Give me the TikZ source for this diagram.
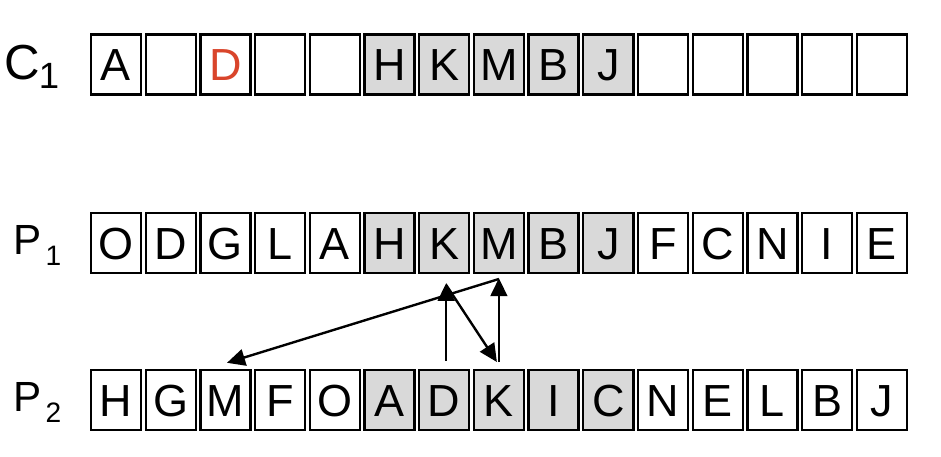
\documentclass[tikz,border=0pt]{standalone}
\usepackage{fontspec}
\setmainfont{Liberation Sans}
\usetikzlibrary{arrows.meta}

\definecolor{cellgray}{RGB}{217,217,217}
\definecolor{mapred}{RGB}{217,69,43}

\tikzset{
    cell/.style={draw=black, line width=1.7pt, minimum width=1.25cm, minimum height=1.5cm,
        inner sep=0pt, text height=23pt, text depth=0pt, font={\fontsize{32}{32}\selectfont}},
    maparrow/.style={line width=1.7pt, -{Triangle[length=0.45cm, width=0.42cm]}}
}

\begin{document}
\begin{tikzpicture}
        \useasboundingbox (0, 0) rectangle (23.525, 11.4);

        % row labels
        \node[anchor=base west, inner sep=0pt, font={\fontsize{35}{35}\selectfont}] (lc) at (0.11, 9.4)
            {C\kern-1pt\raisebox{-5.7pt}{\fontsize{26}{26}\selectfont 1}};
        \node[anchor=base west, inner sep=0pt, font={\fontsize{30}{30}\selectfont}] (lp1) at (0.34, 5.025)
            {P\kern2.5pt\raisebox{-7.8pt}{\fontsize{20}{20}\selectfont 1}};
        \node[anchor=base west, inner sep=0pt, font={\fontsize{30}{30}\selectfont}] (lp2) at (0.34, 1.1)
            {P\kern2.5pt\raisebox{-7.8pt}{\fontsize{20}{20}\selectfont 2}};

        % child
        \foreach \ch [count=\i] in {A, {}, {\textcolor{mapred}{D}}, {}, {}, H, K, M, B, J, {}, {}, {}, {}, {}} {
            \pgfmathtruncatemacro\tint{100*and(\i>5, \i<11)}
            \node[cell, fill=cellgray!\tint] (c-\i) at ({2.9 + 1.3675*(\i-1)}, 9.7875) {\ch};
        }

        % parent 1
        \foreach \ch [count=\i] in {O, D, G, L, A, H, K, M, B, J, F, C, N, I, E} {
            \pgfmathtruncatemacro\tint{100*and(\i>5, \i<11)}
            \node[cell, fill=cellgray!\tint] (p1-\i) at ({2.9 + 1.3675*(\i-1)}, 5.325) {\ch};
        }

        % parent 2
        \foreach \ch [count=\i] in {H, G, M, F, O, A, D, K, I, C, N, E, L, B, J} {
            \pgfmathtruncatemacro\tint{100*and(\i>5, \i<11)}
            \node[cell, fill=cellgray!\tint] (p2-\i) at ({2.9 + 1.3675*(\i-1)}, 1.4) {\ch};
        }

        % mapping chain D -> K -> M
        \draw[maparrow] ([xshift=0.05cm, yshift=0.2cm]p2-7.north) -- ([xshift=0.05cm, yshift=-0.22cm]p1-7.south);
        \draw[maparrow] ([xshift=0.05cm, yshift=-0.27cm]p1-7.south) -- ([xshift=-0.05cm, yshift=0.17cm]p2-8.north);
        \draw[maparrow] ([yshift=0.17cm]p2-8.north) -- ([yshift=-0.1cm]p1-8.south);
        \draw[maparrow] ([yshift=-0.12cm]p1-8.south) -- ([xshift=0.04cm, yshift=0.15cm]p2-3.north);
    \end{tikzpicture}
\end{document}
